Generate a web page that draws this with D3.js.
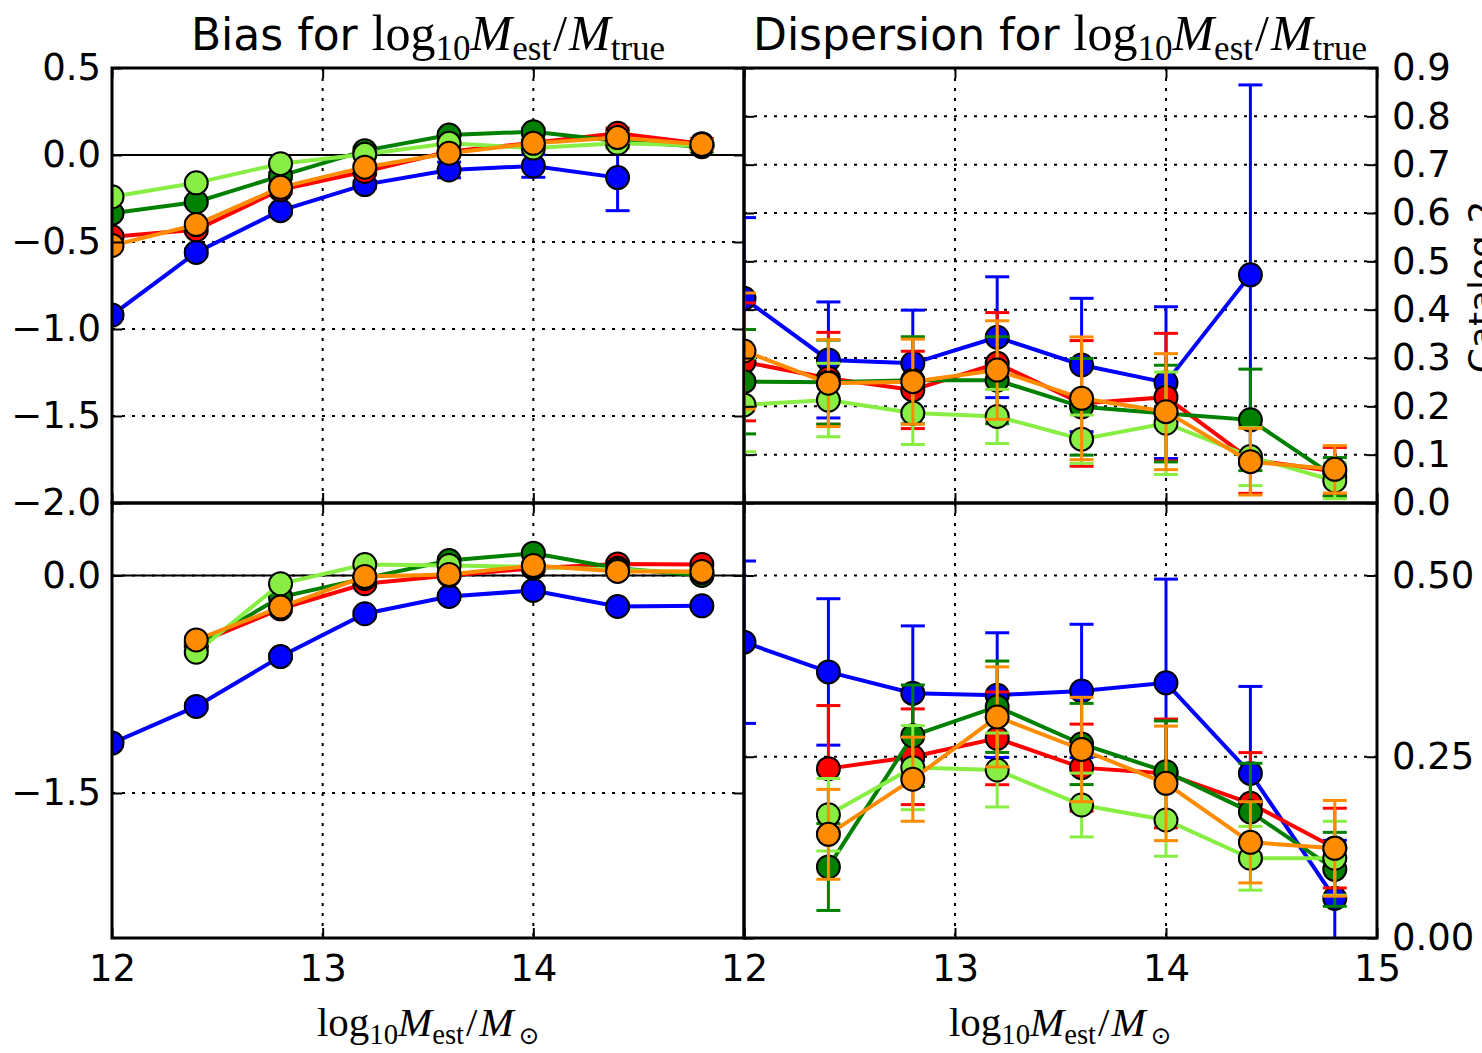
<!DOCTYPE html>
<html>
<head>
<meta charset="utf-8">
<script src="https://cdn.jsdelivr.net/npm/d3@7"></script>
<style>
body { margin: 0; background: #fff; }
</style>
</head>
<body>
<script>
// Mass bins (log10 M_est / M_sun)
const xBins = [12.0, 12.4, 12.8, 13.2, 13.6, 14.0, 14.4, 14.8];

// Series order: blue, red, dark green, light green, orange
const seriesNames = ['s1', 's2', 's3', 's4', 's5'];
const seriesColors = ['#0000ff', '#ff0000', '#008000', '#88ee44', '#ff8c00'];

// Top-left: bias, catalog 1
const biasTop = [
    [-0.92, -0.56, -0.32, -0.17, -0.086, -0.063, -0.13, null],
    [-0.47, -0.43, -0.20, -0.095, 0.02, 0.07, 0.125, 0.065],
    [-0.335, -0.27, -0.12, 0.025, 0.115, 0.134, 0.08, 0.048],
    [-0.24, -0.16, -0.05, 0.004, 0.067, 0.04, 0.067, 0.055],
    [-0.52, -0.40, -0.186, -0.07, 0.01, 0.067, 0.10, 0.06]
];
const biasTopErr = [
    [0.02, 0.02, 0.02, 0.02, 0.045, 0.065, 0.19, null],
    [0.02, 0.02, 0.02, 0.02, 0.02, 0.02, 0.03, 0.03],
    [0.02, 0.02, 0.02, 0.02, 0.02, 0.02, 0.04, 0.03],
    [0.02, 0.02, 0.02, 0.02, 0.02, 0.02, 0.03, 0.03],
    [0.02, 0.02, 0.02, 0.02, 0.02, 0.02, 0.03, 0.03]
];

// Top-right: dispersion, catalog 1
const dispTop = [
    [0.4235, 0.296, 0.289, 0.343, 0.2855, 0.249, 0.472, null],
    [0.292, 0.258, 0.234, 0.289, 0.206, 0.219, 0.09, 0.065],
    [0.251, 0.25, 0.254, 0.254, 0.199, 0.185, 0.172, 0.054],
    [0.203, 0.213, 0.186, 0.179, 0.132, 0.165, 0.096, 0.046],
    [0.3145, 0.248, 0.251, 0.275, 0.2166, 0.189, 0.0855, 0.0697]
];
const dispTopErr = [
    [0.167, 0.12, 0.11, 0.125, 0.138, 0.157, 0.393, null],
    [0.122, 0.095, 0.08, 0.105, 0.13, 0.132, 0.07, 0.05],
    [0.108, 0.087, 0.09, 0.09, 0.1, 0.1, 0.105, 0.04],
    [0.097, 0.076, 0.065, 0.056, 0.05, 0.106, 0.06, 0.037],
    [0.12, 0.09, 0.088, 0.102, 0.127, 0.12, 0.069, 0.049]
];

// Bottom-left: bias, catalog 2
const biasBottom = [
    [-1.156, -0.903, -0.559, -0.264, -0.145, -0.103, -0.214, -0.209],
    [null, -0.47, -0.23, -0.057, 0.0, 0.05, 0.08, 0.076],
    [null, -0.49, -0.149, -0.02, 0.103, 0.154, 0.05, 0.0],
    [null, -0.529, -0.057, 0.076, 0.069, 0.06, 0.04, 0.02],
    [null, -0.444, -0.218, -0.007, 0.007, 0.069, 0.028, 0.028]
];
const biasBottomErr = [
    [0.02, 0.02, 0.02, 0.02, 0.02, 0.02, 0.02, 0.02],
    [null, 0.02, 0.02, 0.02, 0.02, 0.02, 0.02, 0.02],
    [null, 0.02, 0.02, 0.02, 0.02, 0.02, 0.02, 0.02],
    [null, 0.02, 0.02, 0.02, 0.02, 0.02, 0.02, 0.02],
    [null, 0.02, 0.02, 0.02, 0.02, 0.02, 0.02, 0.02]
];

// Bottom-right: dispersion, catalog 2
const dispBottom = [
    [0.408, 0.367, 0.3375, 0.335, 0.3407, 0.352, 0.227, 0.0547],
    [null, 0.2336, 0.25, 0.2754, 0.235, 0.227, 0.1857, 0.124],
    [null, 0.098, 0.279, 0.319, 0.2676, 0.2294, 0.174, 0.0947],
    [null, 0.17, 0.235, 0.2317, 0.1834, 0.1628, 0.11, 0.11],
    [null, 0.143, 0.219, 0.305, 0.26, 0.2133, 0.132, 0.1237]
];
const dispBottomErr = [
    [0.112, 0.101, 0.093, 0.086, 0.092, 0.143, 0.12, 0.08],
    [null, 0.087, 0.066, 0.064, 0.06, 0.075, 0.07, 0.055],
    [null, 0.06, 0.07, 0.063, 0.056, 0.07, 0.067, 0.051],
    [null, 0.05, 0.058, 0.051, 0.044, 0.05, 0.044, 0.051],
    [null, 0.062, 0.058, 0.069, 0.072, 0.079, 0.056, 0.066]
];

// Tick labels
const xTicks = [12, 13, 14, 15];
const biasTopTicks = [-2.0, -1.5, -1.0, -0.5, 0.0, 0.5];
const biasBottomTicks = [-1.5, 0.0];
const dispTopTicks = [0.0, 0.1, 0.2, 0.3, 0.4, 0.5, 0.6, 0.7, 0.8, 0.9];
const dispBottomTicks = [0.0, 0.25, 0.5];

const WIDTH = 1482;
const HEIGHT = 1053;
const SANS = 'DejaVu Sans, sans-serif';
const SERIF = 'Liberation Serif, DejaVu Serif, serif';

const svg = d3.select('body')
    .append('svg')
    .attr('width', WIDTH)
    .attr('height', HEIGHT)
    .style('display', 'block');

const defs = svg.append('defs');

const panels = [
    { left: 112, right: 744, top: 68, bottom: 503, domain: [-2.0, 0.5], values: biasTop, errors: biasTopErr,
      ticks: biasTopTicks, grid: [-1.5, -1.0, -0.5, 0.0], zero: true, side: 'left', fmt: d3.format('.1f'), xLabels: false },
    { left: 744, right: 1377, top: 68, bottom: 503, domain: [0, 0.9], values: dispTop, errors: dispTopErr,
      ticks: dispTopTicks, grid: [0.1, 0.2, 0.3, 0.4, 0.5, 0.6, 0.7, 0.8], zero: false, side: 'right', fmt: d3.format('.1f'), xLabels: false },
    { left: 112, right: 744, top: 503, bottom: 938, domain: [-2.5, 0.5], values: biasBottom, errors: biasBottomErr,
      ticks: biasBottomTicks, grid: [-1.5, 0.0], zero: true, side: 'left', fmt: d3.format('.1f'), xLabels: true },
    { left: 744, right: 1377, top: 503, bottom: 938, domain: [0, 0.6], values: dispBottom, errors: dispBottomErr,
      ticks: dispBottomTicks, grid: [0.25, 0.5], zero: false, side: 'right', fmt: d3.format('.2f'), xLabels: true }
];

function styleAxis(sel) {
    sel.select('.domain').remove();
    sel.selectAll('.tick line').attr('stroke', '#000').attr('stroke-width', 2);
    sel.selectAll('.tick text')
        .attr('fill', '#000')
        .style('font-family', SANS)
        .style('font-size', '37px');
}

function drawPanel(p, idx) {
    const x = d3.scaleLinear().domain([12, 15]).range([p.left, p.right]);
    const y = d3.scaleLinear().domain(p.domain).range([p.bottom, p.top]);
    const g = svg.append('g');

    defs.append('clipPath').attr('id', 'clip' + idx)
        .append('rect')
        .attr('x', p.left).attr('y', p.top)
        .attr('width', p.right - p.left).attr('height', p.bottom - p.top);

    // Dotted grid
    const grid = g.append('g').attr('stroke', '#000').attr('stroke-width', 2).attr('stroke-dasharray', '3,7');
    grid.selectAll('line.h').data(p.grid).join('line')
        .attr('class', 'h')
        .attr('x1', p.left).attr('x2', p.right)
        .attr('y1', d => y(d)).attr('y2', d => y(d));
    grid.selectAll('line.v').data([13, 14]).join('line')
        .attr('class', 'v')
        .attr('x1', d => x(d)).attr('x2', d => x(d))
        .attr('y1', p.top).attr('y2', p.bottom);

    if (p.zero) {
        g.append('line')
            .attr('x1', p.left).attr('x2', p.right)
            .attr('y1', y(0)).attr('y2', y(0))
            .attr('stroke', '#000').attr('stroke-width', 2);
    }

    const plot = g.append('g').attr('clip-path', `url(#clip${idx})`);
    const line = d3.line()
        .defined(d => d.v !== null)
        .x(d => x(d.x))
        .y(d => y(d.v));

    p.values.forEach((vals, si) => {
        const color = seriesColors[si];
        const pts = xBins.map((xv, i) => ({ x: xv, v: vals[i], e: p.errors[si][i] }));
        const ok = pts.filter(d => d.v !== null);
        const s = plot.append('g').attr('class', seriesNames[si]);

        // error bars
        const eb = s.append('g').attr('stroke', color).attr('stroke-width', 3);
        eb.selectAll('line.bar').data(ok).join('line')
            .attr('class', 'bar')
            .attr('x1', d => x(d.x)).attr('x2', d => x(d.x))
            .attr('y1', d => y(d.v - d.e)).attr('y2', d => y(d.v + d.e));
        eb.selectAll('line.capLo').data(ok).join('line')
            .attr('class', 'capLo')
            .attr('x1', d => x(d.x) - 12).attr('x2', d => x(d.x) + 12)
            .attr('y1', d => y(d.v - d.e)).attr('y2', d => y(d.v - d.e));
        eb.selectAll('line.capHi').data(ok).join('line')
            .attr('class', 'capHi')
            .attr('x1', d => x(d.x) - 12).attr('x2', d => x(d.x) + 12)
            .attr('y1', d => y(d.v + d.e)).attr('y2', d => y(d.v + d.e));

        s.append('path')
            .datum(pts)
            .attr('fill', 'none')
            .attr('stroke', color)
            .attr('stroke-width', 4)
            .attr('d', line);

        s.selectAll('circle').data(ok).join('circle')
            .attr('cx', d => x(d.x))
            .attr('cy', d => y(d.v))
            .attr('r', 11.5)
            .attr('fill', color)
            .attr('stroke', '#000')
            .attr('stroke-width', 2);
    });

    // Axes (ticks pointing inward)
    const bottomAxis = d3.axisBottom(x).tickValues(xTicks).tickSize(-10).tickPadding(17)
        .tickFormat(d => (p.xLabels && !(p.side === 'left' && d === 15)) ? d : '');
    svg.append('g').attr('transform', `translate(0,${p.bottom})`).call(bottomAxis).call(styleAxis);
    const topAxis = d3.axisTop(x).tickValues(xTicks).tickSize(-10).tickFormat('');
    svg.append('g').attr('transform', `translate(0,${p.top})`).call(topAxis).call(styleAxis);

    const leftAxis = d3.axisLeft(y).tickValues(p.ticks).tickSize(-10).tickPadding(11)
        .tickFormat(d => p.side === 'left' ? p.fmt(d) : '');
    svg.append('g').attr('transform', `translate(${p.left},0)`).call(leftAxis).call(styleAxis);
    const rightAxis = d3.axisRight(y).tickValues(p.ticks).tickSize(-10).tickPadding(15)
        .tickFormat(d => p.side === 'right' ? p.fmt(d) : '');
    svg.append('g').attr('transform', `translate(${p.right},0)`).call(rightAxis).call(styleAxis);

    // Frame
    svg.append('rect')
        .attr('x', p.left).attr('y', p.top)
        .attr('width', p.right - p.left).attr('height', p.bottom - p.top)
        .attr('fill', 'none')
        .attr('stroke', '#000')
        .attr('stroke-width', 3);
}

panels.forEach(drawPanel);

// Math-style label: log10 M_a / M_b
function mathText(x, y, prefix, subA, subB, size, prefixSize) {
    const t = svg.append('text')
        .attr('x', x).attr('y', y)
        .attr('text-anchor', 'middle')
        .attr('fill', '#000');
    const sub = size * 0.7;
    const shift = size * 0.2;
    if (prefix) {
        t.append('tspan').style('font-family', SANS).style('font-size', prefixSize + 'px').text(prefix);
    }
    t.append('tspan').style('font-family', SERIF).style('font-size', size + 'px').text('log');
    t.append('tspan').attr('dy', shift).style('font-family', SERIF).style('font-size', sub + 'px').text('10');
    t.append('tspan').attr('dy', -shift).style('font-family', SERIF).style('font-style', 'italic').style('font-size', size + 'px').text('M');
    t.append('tspan').attr('dy', shift).style('font-family', SERIF).style('font-size', sub + 'px').text(subA);
    t.append('tspan').attr('dy', -shift).attr('dx', 2).style('font-family', SERIF).style('font-size', size + 'px').text('/');
    t.append('tspan').attr('dx', 2).style('font-family', SERIF).style('font-style', 'italic').style('font-size', size + 'px').text('M');
    t.append('tspan').attr('dy', shift).attr('dx', subB === '\u2299' ? 5 : 0)
        .style('font-family', subB === '\u2299' ? SANS : SERIF)
        .style('font-size', (subB === '\u2299' ? sub * 0.85 : sub) + 'px').text(subB);
    return t;
}

// Titles
mathText(428, 50, 'Bias for ', 'est', 'true', 50, 44);
mathText(1060, 50, 'Dispersion for ', 'est', 'true', 50, 44);

// X labels
mathText(428, 1036, null, 'est', '\u2299', 41);
mathText(1060, 1036, null, 'est', '\u2299', 41);

// Row label (cut by the page edge, as in the original figure)
svg.append('text')
    .attr('transform', 'translate(1494,287) rotate(-90)')
    .attr('text-anchor', 'middle')
    .style('font-family', SANS)
    .style('font-size', '36px')
    .attr('fill', '#000')
    .text('Catalog 2');
</script>
</body>
</html>
